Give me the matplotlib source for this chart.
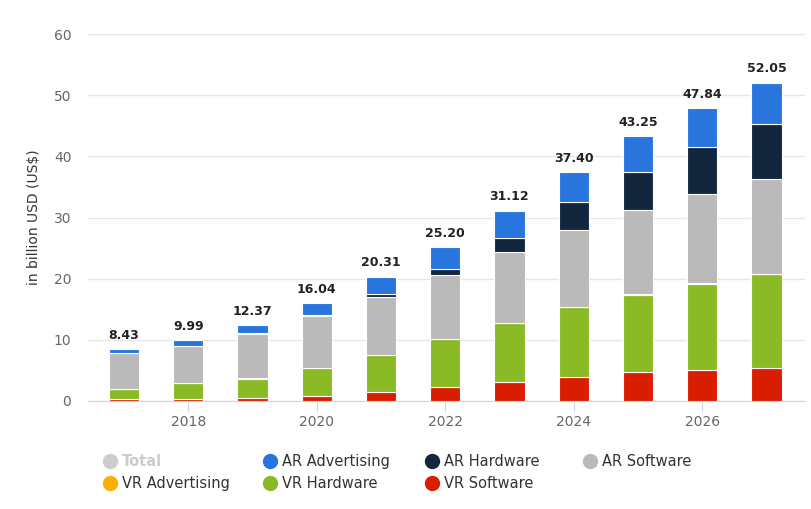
import matplotlib.pyplot as plt
import numpy as np
from matplotlib.lines import Line2D

years = [2017, 2018, 2019, 2020, 2021, 2022, 2023, 2024, 2025, 2026, 2027]
totals = [8.43, 9.99, 12.37, 16.04, 20.31, 25.20, 31.12, 37.40, 43.25, 47.84, 52.05]

vr_software = [0.40, 0.40, 0.55, 0.77, 1.40, 2.35, 3.15, 4.00, 4.70, 5.10, 5.45]
vr_hardware = [1.60, 2.50, 3.10, 4.55, 6.10, 7.75, 9.55, 11.30, 12.70, 14.10, 15.25]
vr_advertising = [0.03, 0.03, 0.03, 0.03, 0.04, 0.04, 0.04, 0.05, 0.05, 0.05, 0.05]
ar_software = [5.80, 6.00, 7.27, 8.47, 9.47, 10.46, 11.66, 12.60, 13.75, 14.55, 15.55]
ar_hardware = [0.05, 0.10, 0.10, 0.30, 0.50, 1.00, 2.30, 4.65, 6.30, 7.80, 9.00]
ar_advertising = [0.55, 0.96, 1.32, 1.92, 2.80, 3.60, 4.42, 4.80, 5.75, 6.24, 6.75]

series = [
    ("VR Software", vr_software, "#d91d00"),
    ("VR Hardware", vr_hardware, "#8aba25"),
    ("VR Advertising", vr_advertising, "#fbb000"),
    ("AR Software", ar_software, "#bababa"),
    ("AR Hardware", ar_hardware, "#12263d"),
    ("AR Advertising", ar_advertising, "#2876dd"),
]
colors = {name: col for name, _, col in series}
colors["Total"] = "#cccccc"

# legend layout as in the reference: columns of (top, bottom) entries
legend_cols = [["Total", "VR Advertising"], ["AR Advertising", "VR Hardware"],
               ["AR Hardware", "VR Software"], ["AR Software"]]

fig = plt.figure(figsize=(8.12, 5.09), dpi=100)
ax = fig.add_axes([88 / 812, 1 - 401 / 509, 717 / 812, 367 / 509])

x = np.array(years)
bottom = np.zeros(len(years))
for name, vals, col in series:
    ax.bar(x, vals, bottom=bottom, width=0.47, color=col, edgecolor="white",
           linewidth=0.8, zorder=3)
    bottom += np.array(vals)

for xi, t in zip(x, totals):
    ax.text(xi, t + 1.2, f"{t:.2f}", ha="center", va="bottom", fontsize=9,
            fontweight="bold", color="#222222")

ax.set_xlim(2016.44, 2027.6)
ax.set_ylim(0, 60)
ax.set_yticks(range(0, 61, 10))
ax.set_xticks([2018, 2020, 2022, 2024, 2026])
ax.grid(axis="y", color="#e6e6e6", linewidth=1, zorder=0)
for s in ["top", "right", "left"]:
    ax.spines[s].set_visible(False)
ax.spines["bottom"].set_color("#ccd6eb")
ax.tick_params(axis="y", length=0, labelsize=10, labelcolor="#666666", pad=12)
ax.tick_params(axis="x", length=8, color="#ccd6eb", labelsize=10,
               labelcolor="#666666", pad=2)
ax.set_ylabel("in billion USD (US$)", fontsize=10, color="#333333", labelpad=9)

# one legend per column so the column starts match the reference
col_x = [90, 250, 412, 570]
for cx, names in zip(col_x, legend_cols):
    handles = [Line2D([], [], marker="o", ls="", color=colors[n], markersize=10)
               for n in names]
    leg = fig.legend(handles, names, loc="upper left",
                     bbox_to_anchor=(cx / 812, 1 - 441 / 509), frameon=False,
                     fontsize=10.5, handletextpad=0.3, labelspacing=0.45,
                     handlelength=1.0)
    for txt, n in zip(leg.get_texts(), names):
        if n == "Total":
            txt.set_color("#cccccc")
            txt.set_fontweight("bold")
        else:
            txt.set_color("#333333")

fig.savefig("out.png", dpi=100)
